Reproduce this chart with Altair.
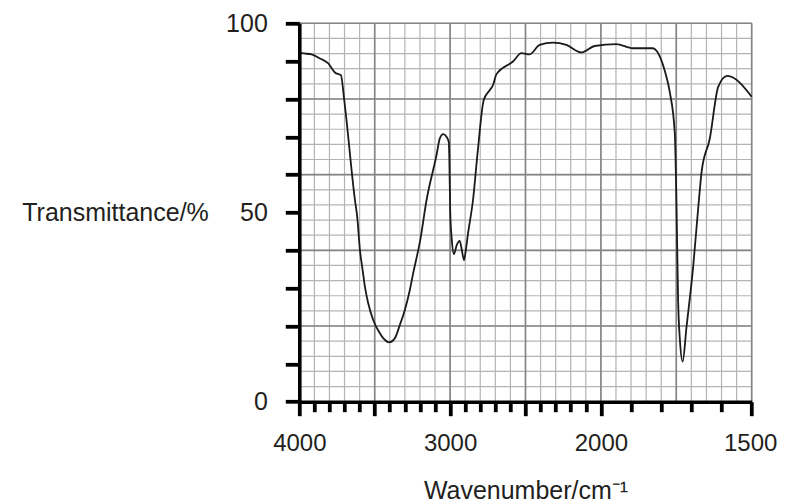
import altair as alt
import pandas as pd

# IR spectrum (wavenumber in cm^-1, transmittance in %)
wavenumber = [4000, 3984, 3918, 3863, 3808, 3764, 3724, 3702, 3631, 3616, 3598, 3580,
              3565, 3543, 3510, 3466, 3432, 3404, 3366, 3333, 3300, 3267, 3245, 3198,
              3156, 3090, 3068, 3046, 3024, 3009, 3005, 2999, 2989, 2975, 2955, 2936,
              2922, 2907, 2896, 2881, 2848, 2817, 2777, 2738, 2715, 2693, 2583, 2527,
              2472, 2406, 2318, 2229, 2130, 2042, 1949, 1894, 1829, 1788, 1772, 1755,
              1750, 1744, 1738, 1729, 1716, 1694, 1675, 1666, 1639, 1611, 1581, 1500]
transmittance = [92.3, 92.1, 91.8, 90.7, 89.4, 87.0, 86.3, 79.7, 53.3, 48.9, 40.1, 34.8,
                 30.4, 26.0, 21.6, 18.1, 16.3, 15.7, 16.8, 20.3, 24.2, 29.5, 33.9, 42.7,
                 53.3, 65.2, 69.6, 70.7, 70.0, 68.7, 64.3, 50.0, 43.0, 39.0, 41.5, 42.5,
                 40.0, 37.4, 40.0, 44.5, 53.3, 66.0, 79.7, 82.3, 83.7, 86.5, 89.9, 92.1,
                 91.8, 94.3, 94.9, 94.3, 92.3, 94.0, 94.5, 93.4, 93.4, 87.4, 82.0, 71.0,
                 55.0, 26.9, 16.3, 10.6, 19.8, 35.7, 53.3, 60.8, 69.5, 83.2, 86.1, 80.6]

# axis structure
x_domain_breaks = [4000, 2000, 1500]
x_tick_values = list(range(4000, 1499, -100))
x_label_values = [4000, 3000, 2000, 1500]
x_major_values = [4000, 3500, 3000, 2500, 2000, 1750, 1500]
x_minor_grid = list(range(4000, 2000, -100)) + list(range(2000, 1499, -50))
y_tick_values = list(range(0, 101, 10))
y_label_values = [0, 50, 100]
y_minor_grid = list(range(0, 101, 4))
y_major_grid = list(range(0, 101, 20))

W, H = 452.4, 378.4
FONT = "Liberation Sans"
TEXT = "#231f20"

xscale = alt.Scale(domain=x_domain_breaks, range=[0, W * 2 / 3, W])
yscale = alt.Scale(domain=[0, 100])

df = pd.DataFrame({"wn": wavenumber, "t": transmittance})

x_label_test = "indexof(" + str(x_label_values) + ", datum.value) >= 0"
x_major_test = "indexof(" + str(x_major_values) + ", datum.value) >= 0"
y_label_test = "indexof(" + str(y_label_values) + ", datum.value) >= 0"

x_axis = alt.Axis(
    title="Wavenumber/cm\u207b\u00b9",
    values=x_tick_values,
    format="d",
    labelExpr=x_label_test + " ? datum.label : ''",
    tickSize={"condition": {"test": x_major_test, "value": 14}, "value": 10},
    tickWidth=3.8, tickColor="#000000",
    domainWidth=3.6, domainColor="#000000",
    grid=False, labelFlush=False, labelOverlap=False, labelBound=False,
    labelFont=FONT, labelFontSize=24, labelColor=TEXT, labelPadding=16,
    labelOffset={"condition": {"test": "datum.value == 1500", "value": -1.5}, "value": 0},
    titleFont=FONT, titleFontSize=25, titleColor=TEXT, titleFontWeight="normal",
    titleX=W / 2, titleY=89, titleAlign="center", titleBaseline="middle",
    zindex=2,
)
y_axis = alt.Axis(
    title="Transmittance/%",
    values=y_tick_values,
    labelExpr=y_label_test + " ? datum.label : ''",
    tickSize=14, tickWidth=3.8, tickColor="#000000",
    domainWidth=3.6, domainColor="#000000",
    grid=False, labelFlush=False, labelOverlap=False, labelBound=False,
    labelFont=FONT, labelFontSize=25, labelColor=TEXT, labelPadding=18,
    titleFont=FONT, titleFontSize=25, titleColor=TEXT, titleFontWeight="normal",
    titleAngle=0, titleX=-91, titleY=189, titleAlign="right", titleBaseline="middle",
    zindex=2,
)

X = alt.X("wn:Q", scale=xscale, axis=x_axis)
Y = alt.Y("t:Q", scale=yscale, axis=y_axis)

vminor = alt.Chart(pd.DataFrame({"wn": x_minor_grid})).mark_rule(
    color="#b4b4b4", strokeWidth=1.2
).encode(x=X)
hminor = alt.Chart(pd.DataFrame({"t": y_minor_grid})).mark_rule(
    color="#b4b4b4", strokeWidth=1.2
).encode(y=Y)
vmajor = alt.Chart(pd.DataFrame({"wn": x_major_values})).mark_rule(
    color="#858585", strokeWidth=1.6
).encode(x=X)
hmajor = alt.Chart(pd.DataFrame({"t": y_major_grid})).mark_rule(
    color="#858585", strokeWidth=1.6
).encode(y=Y)

line = alt.Chart(df).mark_line(
    color="#1a1a1a", strokeWidth=1.8, interpolate="monotone"
).encode(x=X, y=Y)

chart = alt.layer(vminor, hminor, vmajor, hmajor, line).properties(
    width=W, height=H,
    autosize=alt.AutoSizeParams(type="none"),
    padding={"left": 291.3, "top": 15.3, "right": 26.2, "bottom": 106},
).configure_view(stroke=None)

chart.save("out.html", embed_options={"renderer": "svg", "actions": False})
